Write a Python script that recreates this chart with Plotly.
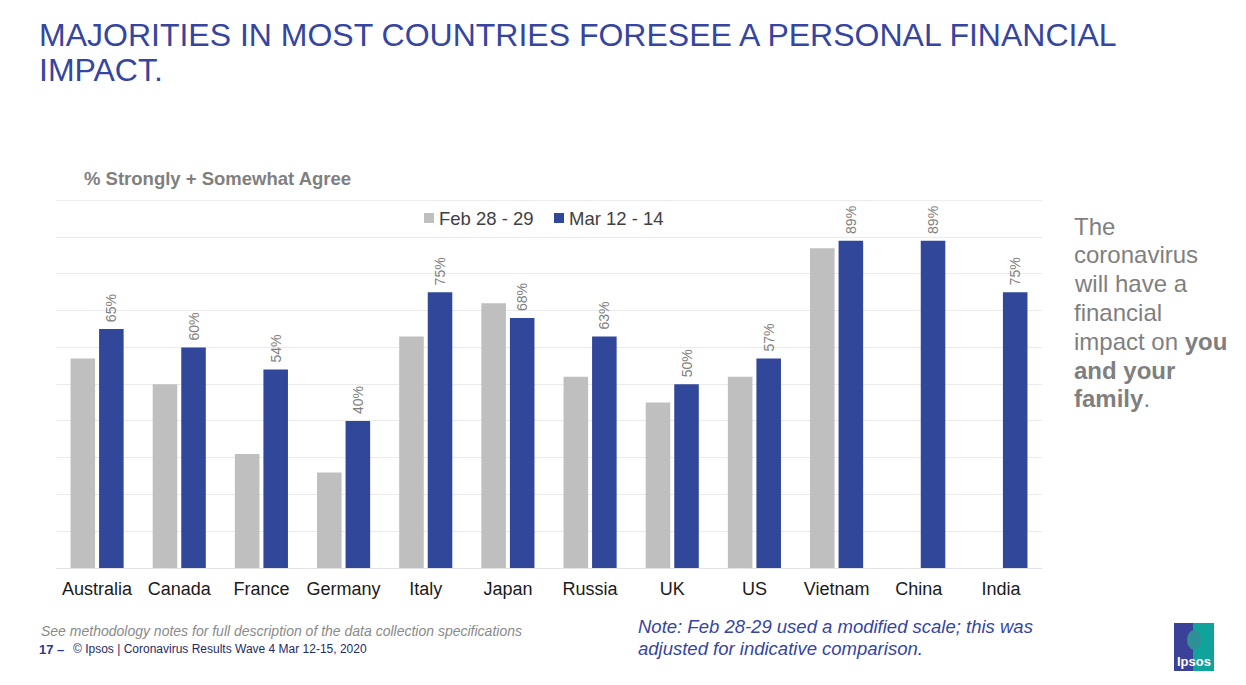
import plotly.graph_objects as go

# ---------------- data ----------------
countries = ["Australia", "Canada", "France", "Germany", "Italy", "Japan",
             "Russia", "UK", "US", "Vietnam", "China", "India"]
feb_28_29 = [57, 50, 31, 26, 63, 72, 52, 45, 52, 87, None, None]
mar_12_14 = [65, 60, 54, 40, 75, 68, 63, 50, 57, 89, 89, 75]
series_names = ["Feb 28 - 29", "Mar 12 - 14"]

# ---------------- layout helpers ----------------
W, H = 1246, 685
L, R, T, B = 56, 204, 200, 117
PW, PH = W - L - R, H - T - B
FONT = "Liberation Sans, Arial, sans-serif"
BLUE = "#30479A"
GRAY = "#BFBFBF"
TXT_GRAY = "#7F7F7F"
TITLE_BLUE = "#3545A0"
GRID = "#EBEBEB"


def px(x):
    return (x - L) / PW


def py(y):
    return (H - B - y) / PH


fig = go.Figure()
fig.add_trace(go.Bar(
    x=countries, y=feb_28_29, name=series_names[0],
    marker=dict(color=GRAY, line=dict(width=0)),
    showlegend=False,
))
fig.add_trace(go.Bar(
    x=countries, y=mar_12_14, name=series_names[1],
    marker=dict(color=BLUE, line=dict(width=0)),
    texttemplate="\u00a0%{y}%", textposition="outside", textangle=-90,
    constraintext="none",
    textfont=dict(family=FONT, size=14, color=TXT_GRAY),
    cliponaxis=False, showlegend=False,
))

annotations = []
shapes = []

# top gridline (100%)
shapes.append(dict(type="line", xref="paper", yref="y", x0=0, x1=1, y0=100, y1=100,
                   line=dict(color=GRID, width=1), layer="below"))

# title
annotations.append(dict(x=px(37), y=py(35), xref="paper", yref="paper",
                        text="MAJORITIES IN MOST COUNTRIES FORESEE A PERSONAL FINANCIAL",
                        showarrow=False, xanchor="left", yanchor="middle",
                        font=dict(family=FONT, size=32, color=TITLE_BLUE)))
annotations.append(dict(x=px(37), y=py(70), xref="paper", yref="paper",
                        text="IMPACT.", showarrow=False, xanchor="left", yanchor="middle",
                        font=dict(family=FONT, size=32, color=TITLE_BLUE)))

# subtitle
annotations.append(dict(x=px(82), y=py(179), xref="paper", yref="paper",
                        text="<b>% Strongly + Somewhat Agree</b>", showarrow=False,
                        xanchor="left", yanchor="middle",
                        font=dict(family=FONT, size=18.5, color=TXT_GRAY)))

# legend (manual)
for (sx, tx, col, name) in [(424, 437, GRAY, series_names[0]), (554, 567, BLUE, series_names[1])]:
    shapes.append(dict(type="rect", xref="paper", yref="paper",
                       x0=px(sx), x1=px(sx + 10), y0=py(223), y1=py(213),
                       fillcolor=col, line=dict(width=0)))
    annotations.append(dict(x=px(tx), y=py(218), xref="paper", yref="paper",
                            text=name, showarrow=False, xanchor="left", yanchor="middle",
                            font=dict(family=FONT, size=18.5, color="#404040")))

# right-side text
side_lines = ["The", "coronavirus", "will have a", "financial",
              "impact on <b>you</b>", "<b>and your</b>", "<b>family</b>."]
for i, s in enumerate(side_lines):
    annotations.append(dict(x=px(1072), y=py(226 + i * 28.8), xref="paper", yref="paper",
                            text=s, showarrow=False, xanchor="left", yanchor="middle",
                            font=dict(family=FONT, size=24, color=TXT_GRAY)))

# footer
annotations.append(dict(x=px(39), y=py(631), xref="paper", yref="paper",
                        text="<i>See methodology notes for full description of the data collection specifications</i>",
                        showarrow=False, xanchor="left", yanchor="middle",
                        font=dict(family=FONT, size=14, color="#8A8A8A")))
annotations.append(dict(x=px(37), y=py(649), xref="paper", yref="paper",
                        text="<b>17 –</b>", showarrow=False, xanchor="left", yanchor="middle",
                        font=dict(family=FONT, size=13, color="#2A3990")))
annotations.append(dict(x=px(71), y=py(649), xref="paper", yref="paper",
                        text="© Ipsos | Coronavirus Results Wave 4 Mar 12-15, 2020",
                        showarrow=False, xanchor="left", yanchor="middle",
                        font=dict(family=FONT, size=12, color="#1F2A66")))
annotations.append(dict(x=px(636), y=py(626), xref="paper", yref="paper",
                        text="<i>Note: Feb 28-29 used a modified scale; this was</i>",
                        showarrow=False, xanchor="left", yanchor="middle",
                        font=dict(family=FONT, size=18.5, color=TITLE_BLUE)))
annotations.append(dict(x=px(636), y=py(648), xref="paper", yref="paper",
                        text="<i>adjusted for indicative comparison.</i>",
                        showarrow=False, xanchor="left", yanchor="middle",
                        font=dict(family=FONT, size=18.5, color=TITLE_BLUE)))

# Ipsos logo
shapes.append(dict(type="rect", xref="paper", yref="paper",
                   x0=px(1174), x1=px(1214), y0=py(671), y1=py(623),
                   fillcolor="#0FA39B", line=dict(width=0)))
shapes.append(dict(type="rect", xref="paper", yref="paper",
                   x0=px(1174), x1=px(1193), y0=py(671), y1=py(623),
                   fillcolor="#3B4099", line=dict(width=0)))
shapes.append(dict(type="circle", xref="paper", yref="paper",
                   x0=px(1187), x1=px(1201), y0=py(650), y1=py(630),
                   fillcolor="#2E8F95", line=dict(width=0)))
annotations.append(dict(x=px(1194), y=py(661), xref="paper", yref="paper",
                        text="<b>Ipsos</b>", showarrow=False, xanchor="center", yanchor="middle",
                        font=dict(family=FONT, size=13, color="white")))

fig.update_layout(
    width=W, height=H,
    margin=dict(l=L, r=R, t=T, b=B, pad=0),
    paper_bgcolor="white", plot_bgcolor="white",
    barmode="group", bargap=0.305, bargroupgap=0.14,
    showlegend=False,
    annotations=annotations, shapes=shapes,
    font=dict(family=FONT),
)
fig.update_xaxes(
    showline=False, ticks="", showgrid=False,
    tickfont=dict(family=FONT, size=18, color="#1A1A1A"),
    ticklabelstandoff=8,
)
fig.update_yaxes(
    range=[0, 100.1], tick0=0, dtick=10, showticklabels=False, ticks="",
    showgrid=True, gridcolor=GRID, gridwidth=1,
    zeroline=True, zerolinecolor="#E3E3E3", zerolinewidth=1,
    showline=False,
)

fig.write_html("out.html", config={"displayModeBar": False},
               post_script="document.body.style.margin='0';")
